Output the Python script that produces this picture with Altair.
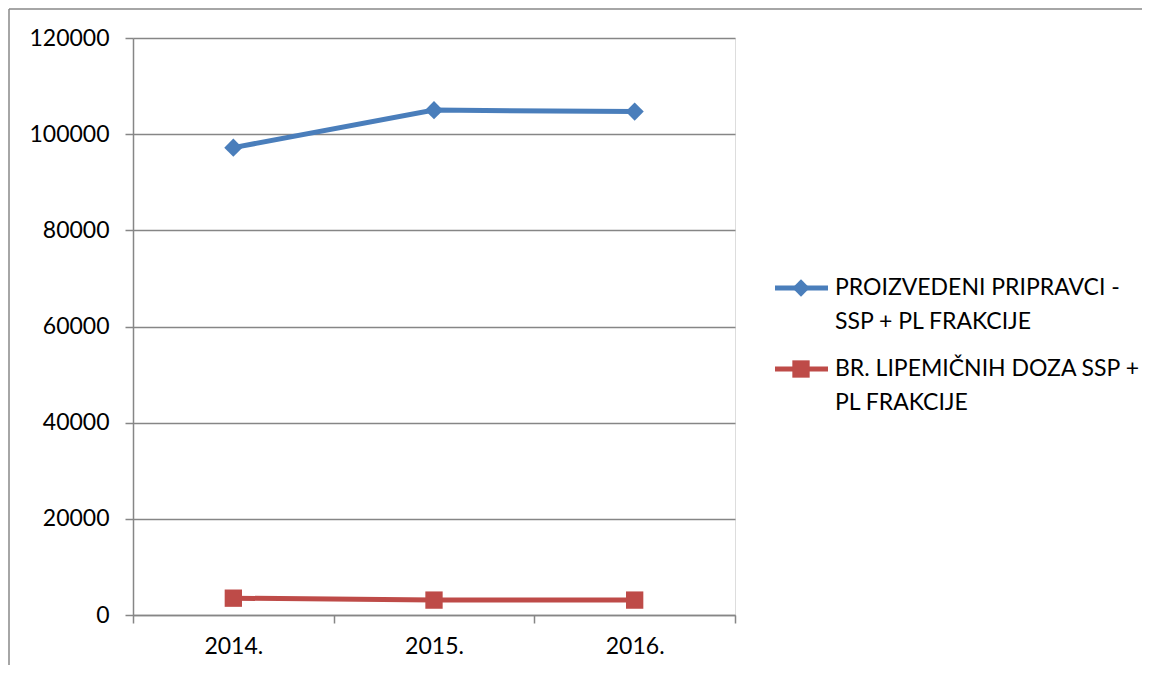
import altair as alt
import pandas as pd

years = ["2014.", "2015.", "2016."]
blue_vals = [97200, 105000, 104700]
red_vals = [3500, 3100, 3100]
series = ["PROIZVEDENI PRIPRAVCI - SSP + PL FRAKCIJE", "BR. LIPEMIČNIH DOZA SSP + PL FRAKCIJE"]
legend_lines = [["PROIZVEDENI PRIPRAVCI -", "SSP + PL FRAKCIJE"],
                ["BR. LIPEMIČNIH DOZA SSP +", "PL FRAKCIJE"]]
colors = ["#4a7ebb", "#be4b48"]
y_ticks = [0, 20000, 40000, 60000, 80000, 100000, 120000]

FONT = "Lato"
FS = 23
AX = "#868686"

df = pd.DataFrame({
    "year": years * 2,
    "value": blue_vals + red_vals,
    "series": [series[0]] * 3 + [series[1]] * 3,
})

x_enc = alt.X("year:N", sort=years,
              scale=alt.Scale(type="band", paddingInner=0, paddingOuter=0),
              axis=alt.Axis(title=None, tickBand="extent", labelAngle=0, grid=False,
                            domainColor=AX, tickColor=AX, tickSize=8, domainWidth=1.5,
                            tickWidth=1.5, labelFont=FONT, labelFontSize=FS,
                            labelColor="#000", labelPadding=12))
y_enc = alt.Y("value:Q", scale=alt.Scale(domain=[0, 120000], nice=False),
              axis=alt.Axis(title=None, values=y_ticks, format="d", grid=True,
                            gridColor=AX, gridWidth=1.5, domainColor=AX, domainWidth=1.5,
                            tickColor=AX, tickSize=8, tickWidth=1.5, labelFont=FONT,
                            labelFontSize=FS, labelColor="#000", labelPadding=16))
color_enc = alt.Color("series:N", scale=alt.Scale(domain=series, range=colors), legend=None)

base = alt.Chart(df)
lines = base.mark_line(strokeWidth=5).encode(x=x_enc, y=y_enc, color=color_enc)
blue_pts = base.transform_filter(alt.datum.series == series[0]).mark_point(
    shape="diamond", filled=True, size=330, opacity=1).encode(x=x_enc, y=y_enc, color=color_enc)
red_pts = base.transform_filter(alt.datum.series == series[1]).mark_point(
    shape="square", filled=True, size=300, opacity=1).encode(x=x_enc, y=y_enc, color=color_enc)

one = pd.DataFrame({"a": [0]})
layers = []
# legend
leg_y = [250, 331]
for i in range(2):
    layers.append(alt.Chart(one).mark_rule(color=colors[i], strokeWidth=5).encode(
        x=alt.value(642), x2=alt.value(695), y=alt.value(leg_y[i])))
    layers.append(alt.Chart(one).mark_point(
        shape="diamond" if i == 0 else "square", filled=True, opacity=1,
        color=colors[i], size=300).encode(x=alt.value(668), y=alt.value(leg_y[i])))
    for j, line in enumerate(legend_lines[i]):
        layers.append(alt.Chart(one).mark_text(
            align="left", baseline="middle", font=FONT, fontSize=FS, color="#000").encode(
            x=alt.value(702), y=alt.value(leg_y[i] + j * 34), text=alt.value(line)))
# outer border (left and top)
layers.append(alt.Chart(one).mark_rule(color="#888", strokeWidth=1.5).encode(
    x=alt.value(-124), y=alt.value(-29), y2=alt.value(640)))
layers.append(alt.Chart(one).mark_rule(color="#888", strokeWidth=1.5).encode(
    x=alt.value(-124), x2=alt.value(1030), y=alt.value(-29)))

chart = alt.layer(lines, blue_pts, red_pts, *layers).properties(
    width=602, height=577,
    autosize=alt.AutoSizeParams(type="none"),
    padding={"left": 125, "top": 30, "right": 407, "bottom": 50},
).configure_view(stroke=None).configure(background="white")

chart.save("out.html", embed_options={"renderer": "svg", "actions": False})
